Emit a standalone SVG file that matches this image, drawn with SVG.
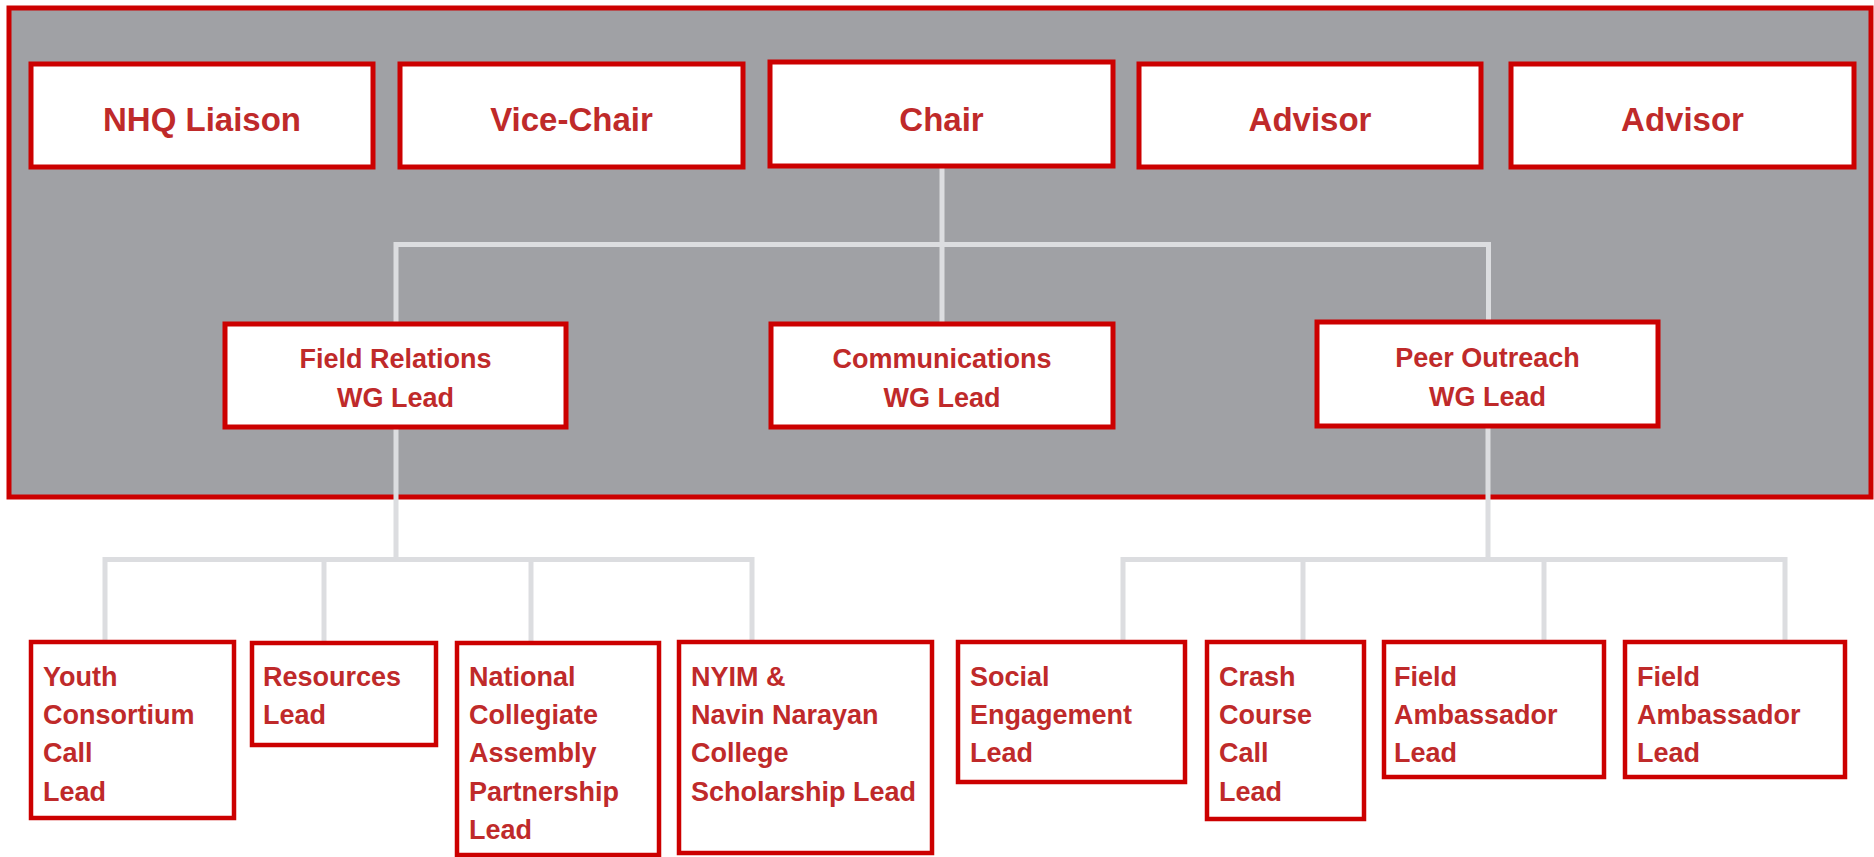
<svg xmlns="http://www.w3.org/2000/svg" width="1874" height="857" viewBox="0 0 1874 857">
<style>
.bg{fill:#a0a1a5;stroke:#cc0000;stroke-width:5}
.box{fill:#ffffff;stroke:#cc0000;stroke-width:5}
.sbox{fill:#ffffff;stroke:#cc0000;stroke-width:4.5}
.conn{fill:none;stroke:#dcdde0;stroke-width:5}
text{font-family:"Liberation Sans",Arial,sans-serif;font-weight:bold;fill:#bf2a2a}
.t1{font-size:33px;text-anchor:middle}
.t2{font-size:27px;text-anchor:middle}
.t3{font-size:27px}
</style>
<rect width="1874" height="857" fill="#ffffff"/>
<rect id="panel" class="bg" x="9" y="8" width="1862" height="489"/>
<g id="connectors">
<path class="conn" d="M942 166V323"/>
<path class="conn" d="M396 324V244.5H1488.5V322"/>
<path class="conn" d="M396 427V559.5"/>
<path class="conn" d="M105 641V559.5H752V641"/>
<path class="conn" d="M324 642V559.5"/>
<path class="conn" d="M531 642V559.5"/>
<path class="conn" d="M1488 426V559.5"/>
<path class="conn" d="M1123 641V559.5H1785V641"/>
<path class="conn" d="M1303 641V559.5"/>
<path class="conn" d="M1544 641V559.5"/>
</g>
<g id="nhq"><rect class="box" x="31" y="64" width="342" height="103"/><text class="t1" x="202" y="131">NHQ Liaison</text></g>
<g id="vicechair"><rect class="box" x="400" y="64" width="343" height="103"/><text class="t1" x="571.5" y="131">Vice-Chair</text></g>
<g id="chair"><rect class="box" x="770" y="62" width="343" height="104"/><text class="t1" x="941.5" y="131">Chair</text></g>
<g id="advisor1"><rect class="box" x="1139" y="64" width="342" height="103"/><text class="t1" x="1310" y="131">Advisor</text></g>
<g id="advisor2"><rect class="box" x="1511" y="64" width="343" height="103"/><text class="t1" x="1682.5" y="131">Advisor</text></g>
<g id="fieldrel"><rect class="box" x="225" y="324" width="341" height="103"/><text class="t2" x="395.5" y="368">Field Relations</text><text class="t2" x="395.5" y="407">WG Lead</text></g>
<g id="comms"><rect class="box" x="771" y="324" width="342" height="103"/><text class="t2" x="942" y="368">Communications</text><text class="t2" x="942" y="407">WG Lead</text></g>
<g id="peer"><rect class="box" x="1317" y="322" width="341" height="104"/><text class="t2" x="1487.5" y="367">Peer Outreach</text><text class="t2" x="1487.5" y="406">WG Lead</text></g>
<g id="youth"><rect class="sbox" x="31" y="642" width="203" height="176"/><text class="t3" x="43"><tspan x="43" y="686">Youth</tspan><tspan x="43" y="724">Consortium</tspan><tspan x="43" y="762">Call</tspan><tspan x="43" y="801">Lead</tspan></text></g>
<g id="resources"><rect class="sbox" x="252" y="643" width="184" height="102"/><text class="t3"><tspan x="263" y="686">Resources</tspan><tspan x="263" y="724">Lead</tspan></text></g>
<g id="national"><rect class="sbox" x="457" y="643" width="202" height="212"/><text class="t3"><tspan x="469" y="686">National</tspan><tspan x="469" y="724">Collegiate</tspan><tspan x="469" y="762">Assembly</tspan><tspan x="469" y="801">Partnership</tspan><tspan x="469" y="839">Lead</tspan></text></g>
<g id="nyim"><rect class="sbox" x="679" y="642" width="253" height="211"/><text class="t3"><tspan x="691" y="686">NYIM &amp;</tspan><tspan x="691" y="724">Navin Narayan</tspan><tspan x="691" y="762">College</tspan><tspan x="691" y="801">Scholarship Lead</tspan></text></g>
<g id="social"><rect class="sbox" x="958" y="642" width="227" height="140"/><text class="t3"><tspan x="970" y="686">Social</tspan><tspan x="970" y="724">Engagement</tspan><tspan x="970" y="762">Lead</tspan></text></g>
<g id="crash"><rect class="sbox" x="1207" y="642" width="157" height="177"/><text class="t3"><tspan x="1219" y="686">Crash</tspan><tspan x="1219" y="724">Course</tspan><tspan x="1219" y="762">Call</tspan><tspan x="1219" y="801">Lead</tspan></text></g>
<g id="ambassador1"><rect class="sbox" x="1384" y="642" width="220" height="135"/><text class="t3"><tspan x="1394" y="686">Field</tspan><tspan x="1394" y="724">Ambassador</tspan><tspan x="1394" y="762">Lead</tspan></text></g>
<g id="ambassador2"><rect class="sbox" x="1625" y="642" width="220" height="135"/><text class="t3"><tspan x="1637" y="686">Field</tspan><tspan x="1637" y="724">Ambassador</tspan><tspan x="1637" y="762">Lead</tspan></text></g>
</svg>
